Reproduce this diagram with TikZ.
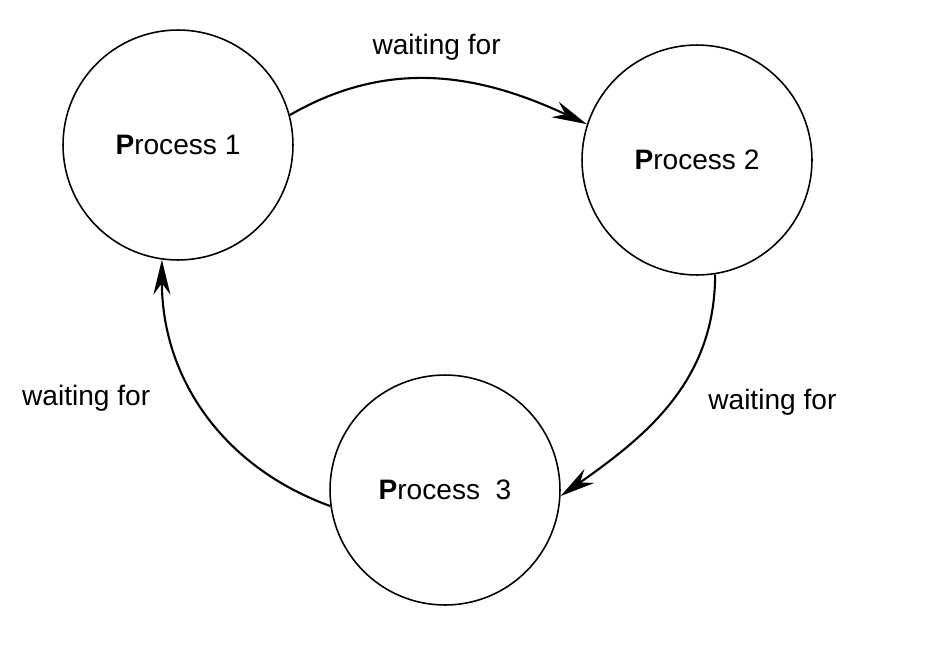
\documentclass[tikz,border=0pt]{standalone}
\usepackage{fontspec}
\setmainfont{Liberation Sans}
\usetikzlibrary{arrows.meta}

\begin{document}
\begin{tikzpicture}[
		x=0.02cm, y=-0.02cm,
		>={Stealth[length=0.7cm, width=0.34cm]},
		font=\fontsize{16}{19}\selectfont,
		% Node Styles
		process/.style={circle, draw=black, line width=0.9pt, minimum size=4.6cm, inner sep=0pt},
		% Edge Styles
		wait_edge/.style={->, draw=black, line width=1.2pt},
		wait_label/.style={inner sep=4pt}
		]
		\useasboundingbox (0,0) rectangle (942,646);
		
		% --- PROCESSES ---
		\node[process] (P1) at (178,145) {\textbf{P}rocess 1};
		\node[process] (P2) at (697,160) {\textbf{P}rocess 2};
		\node[process] (P3) at (445,490) {\textbf{P}rocess\ \ 3};
		
		% ================= WAITS =================
		\draw[wait_edge] (P1.15) to[out=30, in=155] node[wait_label, above=6pt] (W12) {waiting for} (P2.162);
		\draw[wait_edge] (P2.-81) to[out=-90, in=35] node[wait_label, right=17pt, pos=0.5] (W23) {waiting for} (P3.-3);
		\draw[wait_edge] (P3.188) to[out=160, in=-90] node[wait_label, left=22pt, pos=0.55] (W31) {waiting for} (P1.-98);
		
	\end{tikzpicture}
\end{document}
